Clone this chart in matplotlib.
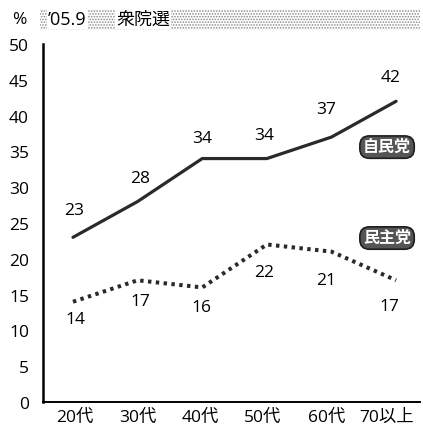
import matplotlib.pyplot as plt
from matplotlib.patches import Rectangle

plt.rcParams['font.family'] = ['Open Sans', 'Noto Sans CJK JP', 'DejaVu Sans']
plt.rcParams['hatch.color'] = '#8a8a8a'
plt.rcParams['hatch.linewidth'] = 0.8

# データ
ages = ["20代", "30代", "40代", "50代", "60代", "70以上"]
ldp = [23, 28, 34, 34, 37, 42]
dpj = [14, 17, 16, 22, 21, 17]
yticks = [0, 5, 10, 15, 20, 25, 30, 35, 40, 45, 50]

# ラベルのずらし量 (px)
ldp_off = [(1, 27), (3, 24), (0, 21), (-3, 24), (-5, 28), (-5, 24)]
dpj_off = [(2, -17), (3, -21), (-1, -20), (-3, -28), (-5, -28), (-7, -26)]
tick_shift = [0.03, 0.0, -0.03, -0.06, -0.08, -0.15]

fig = plt.figure(figsize=(4.23, 4.35), dpi=100)
ax = fig.add_axes([43 / 423, 32 / 435, 377 / 423, 358 / 435])

x = list(range(len(ages)))
ax.plot(x, ldp, color="#2a2a2a", linewidth=2.3, solid_capstyle="round")
ax.plot(x, dpj, color="#2a2a2a", linewidth=2.9, linestyle=(0, (0.85, 1.1)))

for xi, v, (dx, dy) in zip(x, ldp, ldp_off):
    ax.annotate(str(v), (xi, v), xytext=(dx, dy), textcoords="offset pixels",
                ha="center", va="center", fontsize=12.5)
for xi, v, (dx, dy) in zip(x, dpj, dpj_off):
    ax.annotate(str(v), (xi, v), xytext=(dx, dy), textcoords="offset pixels",
                ha="center", va="center", fontsize=12.5)

ax.set_xlim(-0.464, 5.37)
ax.set_ylim(0, 50)
ax.set_yticks(yticks)
ax.set_xticks([xi + s for xi, s in zip(x, tick_shift)])
ax.set_xticklabels(ages)
ax.tick_params(axis="both", length=0, labelsize=12.5)
ax.tick_params(axis="y", pad=10)
ax.tick_params(axis="x", pad=5)
for s in ["top", "right"]:
    ax.spines[s].set_visible(False)
ax.spines["left"].set_linewidth(1.8)
ax.spines["bottom"].set_linewidth(1.4)

box = dict(boxstyle="round,pad=0.2,rounding_size=0.6", fc="#555555", ec="#1e1e1e", lw=1.2)
ax.text(4.86, 35.6, "自民党", color="white", fontsize=11.5, fontweight="bold",
        ha="center", va="center", bbox=box)
ax.text(4.86, 22.9, "民主党", color="white", fontsize=11.5, fontweight="bold",
        ha="center", va="center", bbox=box)

# 上部の帯
fig.patches.append(Rectangle((40 / 423, 1 - 31 / 435), 380 / 423, 21 / 435,
                             transform=fig.transFigure, facecolor="white",
                             hatch="......", linewidth=0))
fig.text(12 / 423, 1 - 20 / 435, "%", fontsize=12.5, ha="left", va="center")
fig.text(48 / 423, 1 - 20 / 435, "’05.9", fontsize=13, ha="left", va="center",
         bbox=dict(fc="white", ec="none", pad=1))
fig.text(116 / 423, 1 - 20 / 435, "衆院選", fontsize=13, ha="left", va="center",
         bbox=dict(fc="white", ec="none", pad=1))

fig.savefig("out.png", dpi=100)
